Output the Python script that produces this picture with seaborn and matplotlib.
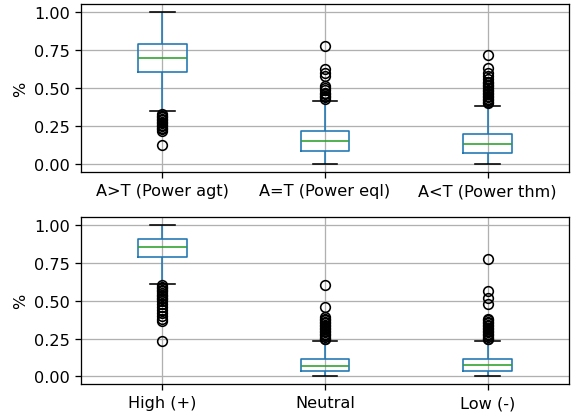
import numpy as np
import pandas as pd
import matplotlib
matplotlib.use("Agg")
import matplotlib.pyplot as plt
import seaborn as sns

# valeurs (quartiles, moustaches, points extremes)
top_labels = ["A>T (Power agt)", "A=T (Power eql)", "A<T (Power thm)"]
top_whislo = [0.351, 0.0, 0.0]
top_q1 = [0.607, 0.0875, 0.072]
top_med = [0.697, 0.153, 0.134]
top_q3 = [0.785, 0.219, 0.200]
top_whishi = [1.0, 0.415, 0.38]
top_fliers = [
    [0.125, 0.22, 0.23, 0.24, 0.25, 0.26, 0.27, 0.28, 0.29, 0.30, 0.31, 0.32, 0.33],
    [0.772, 0.625, 0.60, 0.577, 0.51, 0.50, 0.49, 0.47, 0.46, 0.45, 0.44, 0.43],
    [0.717, 0.63, 0.60, 0.58, 0.56, 0.54, 0.53, 0.52, 0.51, 0.50, 0.49, 0.48,
     0.47, 0.46, 0.45, 0.44, 0.43, 0.42, 0.41, 0.40],
]

bot_labels = ["High (+)", "Neutral", "Low (-)"]
bot_whislo = [0.61, 0.0, 0.0]
bot_q1 = [0.785, 0.033, 0.035]
bot_med = [0.856, 0.072, 0.076]
bot_q3 = [0.905, 0.115, 0.115]
bot_whishi = [1.0, 0.232, 0.232]
bot_fliers = [
    [0.60, 0.59, 0.58, 0.57, 0.56, 0.55, 0.54, 0.53, 0.52, 0.51, 0.50, 0.48,
     0.46, 0.44, 0.42, 0.40, 0.38, 0.364, 0.233],
    [0.605, 0.459, 0.39, 0.38, 0.37, 0.36, 0.35, 0.34, 0.33, 0.32, 0.31, 0.30,
     0.29, 0.28, 0.27, 0.26, 0.25, 0.245],
    [0.771, 0.561, 0.518, 0.48, 0.377, 0.37, 0.36, 0.35, 0.34, 0.33, 0.32, 0.31,
     0.30, 0.29, 0.28, 0.27, 0.26, 0.25, 0.245],
]


def build_df(labels, lo, q1, med, q3, hi, fliers, k=400):
    # echantillon qui redonne exactement les stats du boxplot
    rows = []
    for i, lab in enumerate(labels):
        vals = [lo[i], hi[i]] + [q1[i]] * k + [med[i]] * k + [q3[i]] * k + fliers[i]
        rows += [(lab, v) for v in vals]
    return pd.DataFrame(rows, columns=["categorie", "valeur"])


df_top = build_df(top_labels, top_whislo, top_q1, top_med, top_q3, top_whishi, top_fliers)
df_bot = build_df(bot_labels, bot_whislo, bot_q1, bot_med, bot_q3, bot_whishi, bot_fliers)

# l'image de reference est un peu "zoomee" : on agrandit tout d'environ 16%
s = 1.16
plt.rcParams.update({
    "font.size": 10 * s,
    "axes.linewidth": 0.8 * s,
    "xtick.major.size": 3.5 * s,
    "ytick.major.size": 3.5 * s,
    "xtick.major.width": 0.8 * s,
    "ytick.major.width": 0.8 * s,
    "xtick.major.pad": 3.5 * s,
    "ytick.major.pad": 3.5 * s,
})

fig = plt.figure(figsize=(5.72, 4.14), dpi=100)
ax1 = fig.add_axes([0.1416, 0.582, 0.8532, 0.406])
ax2 = fig.add_axes([0.1416, 0.070, 0.8532, 0.403])

for ax, df, labels in [(ax1, df_top, top_labels), (ax2, df_bot, bot_labels)]:
    sns.boxplot(
        data=df,
        x="categorie",
        y="valeur",
        order=labels,
        ax=ax,
        width=0.3,
        fill=False,
        color="#1f77b4",
        linewidth=1 * s,
        boxprops={"color": "#1f77b4"},
        whiskerprops={"color": "#1f77b4"},
        capprops={"color": "black"},
        medianprops={"color": "#2ca02c"},
        flierprops={"marker": "o", "markerfacecolor": "none",
                    "markeredgecolor": "black", "markersize": 6 * s,
                    "markeredgewidth": 1 * s},
        capwidths=0.15,
    )
    ax.set_xlim(-0.5, 2.5)
    ax.set_ylim(-0.05, 1.05)
    ax.set_yticks([0.0, 0.25, 0.5, 0.75, 1.0])
    ax.set_yticklabels(["0.00", "0.25", "0.50", "0.75", "1.00"])
    ax.grid(True, color="#b0b0b0", linewidth=0.8 * s)
    ax.set_axisbelow(True)
    ax.set_xlabel("")
    ax.set_ylabel("%")

fig.savefig("out.png", dpi=100)
